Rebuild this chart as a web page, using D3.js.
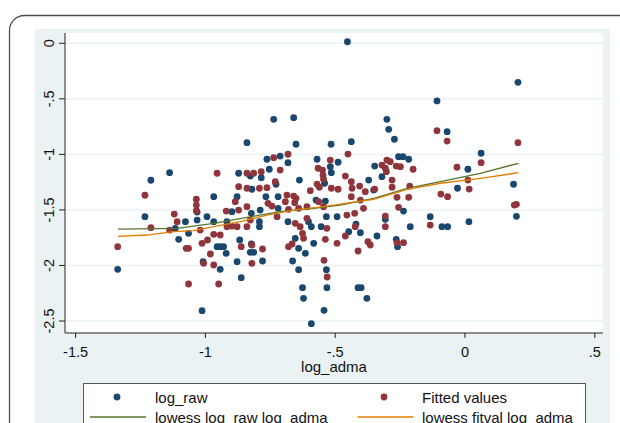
<!DOCTYPE html>
<html>
<head>
<meta charset="utf-8">
<script src="https://cdn.jsdelivr.net/npm/d3@7"></script>
<style>
  body { margin: 0; background: #fff; }
  svg { display: block; font-family: "Liberation Sans", Arial, sans-serif; }
</style>
</head>
<body>
<div id="chart"></div>
<script>
// tick values and labels
var xTicks = [-1.5, -1, -0.5, 0, 0.5];
var xTickLabels = ["-1.5", "-1", "-.5", "0", ".5"];
var yTicks = [0, -0.5, -1, -1.5, -2, -2.5];
var yTickLabels = ["0", "-.5", "-1", "-1.5", "-2", "-2.5"];
var xTitle = "log_adma";
var legendLabels = ["log_raw", "Fitted values", "lowess log_raw log_adma", "lowess fitval log_adma"];

// log_raw (blue markers), [log_adma, log_raw]
var logRaw = [
  [-1.136,-1.165],[-1.208,-1.233],[-1.231,-1.561],[-1.336,-2.035],[-0.870,-1.170],[-0.838,-0.895],
  [-0.966,-1.381],[-0.876,-1.381],[-1.030,-1.591],[-1.075,-1.606],[-0.992,-1.561],[-0.966,-1.606],
  [-1.063,-1.711],[-1.101,-1.765],[-1.114,-1.666],[-0.953,-1.831],[-0.941,-1.831],[-0.928,-1.831],
  [-0.918,-1.891],[-1.007,-1.966],[-0.941,-2.035],[-0.876,-1.966],[-0.860,-2.110],[-1.011,-2.407],
  [-0.866,-1.771],[-0.915,-1.606],[-0.896,-1.516],[-1.030,-1.519],
  [-0.735,-0.684],[-0.658,-0.670],[-0.649,-0.909],[-0.514,-0.909],[-0.436,-0.886],[-0.299,-0.684],
  [-0.292,-0.774],[-0.270,-0.864],[-0.710,-1.015],[-0.761,-1.044],[-0.680,-1.075],[-0.568,-1.044],
  [-0.487,-1.071],[-0.517,-1.111],[-0.752,-1.134],[-0.825,-1.195],[-0.513,-1.165],[-0.346,-1.105],
  [-0.318,-1.201],[-0.783,-1.210],[-0.636,-1.231],[-0.369,-1.231],[-0.726,-1.269],[-0.539,-1.260],
  [-0.819,-1.314],[-0.350,-1.321],[-0.718,-1.381],[-0.765,-1.381],[-0.572,-1.411],[-0.536,-1.420],
  [-0.787,-1.501],[-0.718,-1.486],[-0.821,-1.531],[-0.532,-1.561],[-0.491,-1.561],[-0.680,-1.606],
  [-0.601,-1.606],[-0.590,-1.651],[-0.552,-1.651],[-0.790,-1.606],[-0.790,-1.651],[-0.418,-1.627],
  [-0.401,-1.705],[-0.446,-1.696],[-0.652,-1.756],[-0.581,-1.801],[-0.821,-1.807],[-0.305,-1.585],
  [-0.337,-1.735],[-0.639,-1.846],
  [-0.825,-1.882],[-0.812,-1.882],[-0.778,-1.960],[-0.662,-1.960],[-0.613,-1.891],[-0.639,-2.038],
  [-0.532,-2.038],[-0.624,-2.200],[-0.530,-2.200],[-0.410,-2.200],[-0.398,-2.200],[-0.620,-2.296],
  [-0.376,-2.296],[-0.541,-2.404],[-0.590,-2.524],
  [0.206,-0.351],[-0.106,-0.519],[-0.067,-0.796],[0.064,-0.990],[-0.254,-1.021],[-0.237,-1.021],
  [-0.215,-1.044],[0.013,-1.134],[0.189,-1.269],[-0.027,-1.305],[-0.235,-1.510],[-0.132,-1.561],
  [0.017,-1.606],[-0.087,-1.651],[-0.065,-1.651],[0.200,-1.558],[-0.209,-1.651],[-0.263,-1.765],
  [-0.258,-1.831],[-0.451,0.014]
];

// Fitted values (red markers)
var fittedValues = [
  [-1.231,-1.368],[-1.208,-1.660],[-1.336,-1.831],[-0.953,-1.170],[-0.838,-1.170],[-0.870,-1.291],
  [-0.838,-1.305],[-1.033,-1.404],[-1.033,-1.456],[-1.033,-1.507],[-1.118,-1.537],[-1.107,-1.606],
  [-1.136,-1.681],[-1.018,-1.681],[-1.072,-1.846],[-1.063,-1.846],[-1.011,-1.801],[-0.990,-1.771],
  [-0.966,-1.720],[-0.941,-1.726],[-0.918,-1.510],[-0.883,-1.426],[-0.870,-1.501],[-0.915,-1.651],
  [-0.896,-1.645],[-0.876,-1.651],[-0.838,-1.471],[-0.979,-1.897],[-0.966,-1.996],[-1.005,-1.981],
  [-0.860,-1.831],[-1.063,-2.167],[-0.947,-2.167],[-0.838,-1.651],
  [-0.680,-0.999],[-0.735,-1.030],[-0.710,-1.141],[-0.812,-1.170],[-0.783,-1.156],[-0.564,-1.125],
  [-0.547,-1.141],[-0.545,-1.186],[-0.543,-1.224],[-0.517,-1.051],[-0.449,-0.997],[-0.459,-1.195],
  [-0.436,-1.246],[-0.318,-1.096],[-0.305,-1.125],[-0.299,-1.051],[-0.286,-1.066],[-0.301,-1.156],
  [-0.279,-1.231],[-0.729,-1.246],[-0.568,-1.267],[-0.559,-1.296],[-0.513,-1.305],[-0.487,-1.314],
  [-0.433,-1.305],[-0.404,-1.285],[-0.382,-1.336],[-0.436,-1.381],[-0.401,-1.411],[-0.346,-1.314],
  [-0.279,-1.296],[-0.790,-1.305],[-0.761,-1.300],[-0.684,-1.366],[-0.658,-1.375],[-0.649,-1.396],
  [-0.654,-1.435],[-0.594,-1.327],[-0.757,-1.441],[-0.742,-1.465],[-0.690,-1.426],[-0.678,-1.495],
  [-0.639,-1.486],[-0.607,-1.471],[-0.562,-1.426],[-0.543,-1.471],[-0.389,-1.486],[-0.825,-1.591],
  [-0.722,-1.561],[-0.607,-1.576],[-0.453,-1.546],[-0.423,-1.531],[-0.305,-1.555],[-0.652,-1.621],
  [-0.633,-1.651],[-0.530,-1.666],[-0.421,-1.651],[-0.305,-1.651],[-0.624,-1.711],[-0.620,-1.756],
  [-0.536,-1.765],[-0.491,-1.801],[-0.459,-1.735],[-0.372,-1.786],[-0.363,-1.816],[-0.819,-1.816],
  [-0.678,-1.831],[-0.664,-1.807],
  [-0.819,-1.981],[-0.778,-1.852],[-0.541,-1.954],[-0.529,-2.104],[-0.410,-1.870],
  [-0.106,-0.787],[-0.067,-0.880],[0.206,-0.895],[0.064,-1.075],[-0.263,-1.105],[-0.247,-1.111],
  [-0.198,-1.134],[-0.029,-1.116],[-0.211,-1.285],[0.013,-1.231],[0.018,-1.312],[-0.091,-1.357],
  [-0.065,-1.381],[-0.260,-1.387],[-0.254,-1.477],[-0.215,-1.387],[0.192,-1.456],[0.200,-1.450],
  [-0.132,-1.636],[-0.260,-1.795],[-0.235,-1.795]
];

// lowess curves
var lowessRaw = [
  [-1.335,-1.672],[-1.107,-1.666],[-0.966,-1.621],[-0.838,-1.567],[-0.710,-1.516],[-0.581,-1.486],
  [-0.478,-1.456],[-0.350,-1.396],[-0.221,-1.305],[-0.093,-1.246],[0.061,-1.171],[0.208,-1.080]
];
var lowessFit = [
  [-1.335,-1.738],[-1.223,-1.726],[-1.121,-1.696],[-1.044,-1.687],[-0.966,-1.651],[-0.864,-1.606],
  [-0.761,-1.546],[-0.658,-1.501],[-0.530,-1.465],[-0.440,-1.435],[-0.350,-1.405],[-0.221,-1.315],
  [-0.093,-1.260],[0.061,-1.216],[0.208,-1.165]
];

var blue = "#1a476f", red = "#90353b", green = "#55752f", orange = "#e37e00";
var width = 620, height = 423;
var plot = {left: 65, right: 603, top: 33, bottom: 333};

var svg = d3.select("#chart").append("svg")
    .attr("width", width)
    .attr("height", height);

// outer frame and graph region
svg.append("rect")
    .attr("x", 9.5).attr("y", 15.5)
    .attr("width", 660).attr("height", 460)
    .attr("rx", 15)
    .attr("fill", "none")
    .attr("stroke", "#4d4d4d")
    .attr("stroke-width", 1.3);
svg.append("rect")
    .attr("x", 35).attr("y", 29)
    .attr("width", 575).attr("height", 420)
    .attr("fill", "#eaf2f3");
svg.append("rect")
    .attr("x", plot.left).attr("y", plot.top)
    .attr("width", plot.right - plot.left).attr("height", plot.bottom - plot.top)
    .attr("fill", "#fff");

var x = d3.scaleLinear().domain([-1.5, 0.5]).range([75.1, 594.3]);
var y = d3.scaleLinear().domain([0, -2.5]).range([43.3, 321]);

// gridlines
svg.append("g")
  .selectAll("line")
  .data(yTicks)
  .enter().append("line")
    .attr("x1", plot.left + 1).attr("x2", plot.right)
    .attr("y1", function(d) { return y(d); })
    .attr("y2", function(d) { return y(d); })
    .attr("stroke", "#eaf2f3")
    .attr("stroke-width", 1.5);

// axes
var yAxis = svg.append("g")
    .attr("transform", "translate(" + plot.left + ",0)")
    .call(d3.axisLeft(y).tickValues(yTicks).tickSize(6)
      .tickFormat(function(d, i) { return yTickLabels[i]; }));
yAxis.select(".domain").remove();
yAxis.selectAll("line").attr("stroke", "#222");
yAxis.selectAll("text")
    .attr("transform", function(d) { return "translate(-11," + y(d) + ") rotate(-90)"; })
    .attr("x", 0).attr("y", 0).attr("dy", 0)
    .attr("text-anchor", "middle")
    .attr("font-size", 14.5)
    .attr("fill", "#111");
yAxis.selectAll(".tick").attr("transform", "translate(0,0)");
yAxis.selectAll(".tick line")
    .attr("y1", function(d) { return y(d); })
    .attr("y2", function(d) { return y(d); });

var xAxis = svg.append("g")
    .attr("transform", "translate(0," + plot.bottom + ")")
    .call(d3.axisBottom(x).tickValues(xTicks).tickSize(5)
      .tickFormat(function(d, i) { return xTickLabels[i]; }));
xAxis.select(".domain").remove();
xAxis.selectAll("line").attr("stroke", "#222");
xAxis.selectAll("text")
    .attr("y", 23.5).attr("dy", 0)
    .attr("font-size", 14.5)
    .attr("fill", "#111");

svg.append("line")
    .attr("x1", plot.left).attr("x2", plot.left)
    .attr("y1", plot.top).attr("y2", plot.bottom)
    .attr("stroke", "#222");
svg.append("line")
    .attr("x1", plot.left).attr("x2", plot.right)
    .attr("y1", plot.bottom).attr("y2", plot.bottom)
    .attr("stroke", "#222");

svg.append("text")
    .attr("x", 334).attr("y", 372)
    .attr("text-anchor", "middle")
    .attr("font-size", 15)
    .attr("fill", "#111")
    .text(xTitle);

// markers
svg.append("g")
  .selectAll("circle")
  .data(logRaw)
  .enter().append("circle")
    .attr("cx", function(d) { return x(d[0]); })
    .attr("cy", function(d) { return y(d[1]); })
    .attr("r", 3.4)
    .attr("fill", blue);
svg.append("g")
  .selectAll("circle")
  .data(fittedValues)
  .enter().append("circle")
    .attr("cx", function(d) { return x(d[0]); })
    .attr("cy", function(d) { return y(d[1]); })
    .attr("r", 3.4)
    .attr("fill", red);

// lowess lines
var line = d3.line()
    .x(function(d) { return x(d[0]); })
    .y(function(d) { return y(d[1]); });
svg.append("path").datum(lowessRaw)
    .attr("d", line).attr("fill", "none")
    .attr("stroke", green).attr("stroke-width", 1.3);
svg.append("path").datum(lowessFit)
    .attr("d", line).attr("fill", "none")
    .attr("stroke", orange).attr("stroke-width", 1.3);

// legend
var legend = svg.append("g");
legend.append("rect")
    .attr("x", 83.5).attr("y", 383.5)
    .attr("width", 502).attr("height", 80)
    .attr("fill", "#fff")
    .attr("stroke", "#555");
var legendItems = [
  {label: legendLabels[0], type: "dot", color: blue, sx: 117, tx: 155, y: 397},
  {label: legendLabels[1], type: "dot", color: red, sx: 384, tx: 422, y: 397},
  {label: legendLabels[2], type: "line", color: green, sx: 118, tx: 155, y: 417},
  {label: legendLabels[3], type: "line", color: orange, sx: 385.5, tx: 422, y: 417}
];
legendItems.forEach(function(item) {
  if (item.type === "dot") {
    legend.append("circle")
        .attr("cx", item.sx).attr("cy", item.y)
        .attr("r", 3.4).attr("fill", item.color);
  } else {
    legend.append("line")
        .attr("x1", item.sx - 28).attr("x2", item.sx + 28)
        .attr("y1", item.y).attr("y2", item.y)
        .attr("stroke", item.color).attr("stroke-width", 1.3);
  }
  legend.append("text")
      .attr("x", item.tx).attr("y", item.y + 5.5)
      .attr("font-size", 15)
      .attr("fill", "#111")
      .text(item.label);
});
</script>
</body>
</html>
